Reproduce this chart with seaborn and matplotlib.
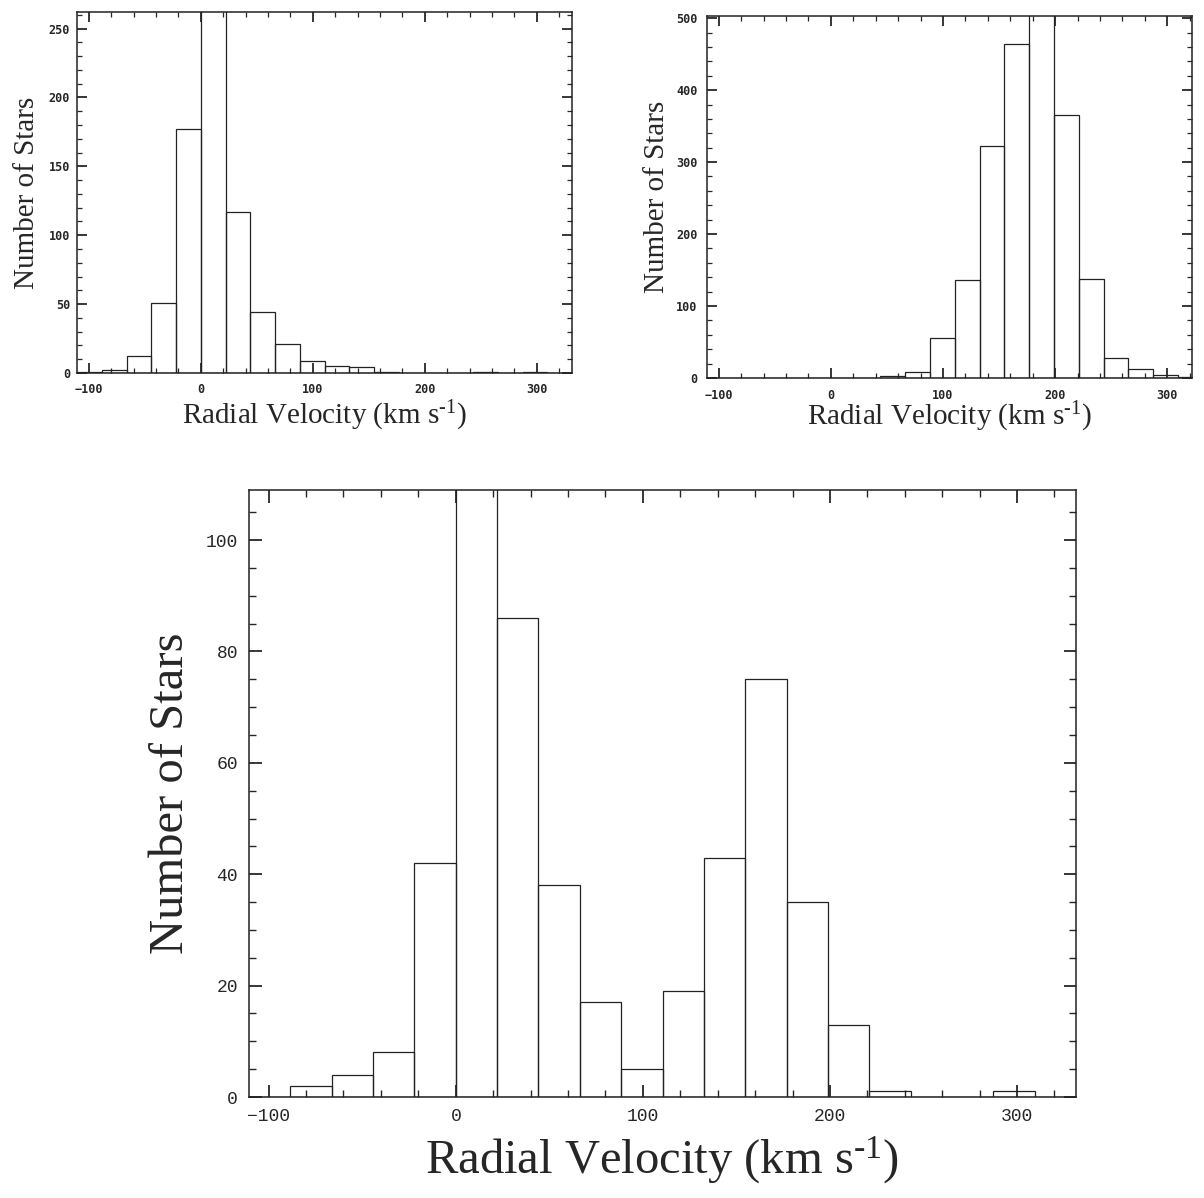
import numpy as np
import pandas as pd
import matplotlib
matplotlib.use("Agg")
import matplotlib.pyplot as plt
from matplotlib.ticker import MultipleLocator
import seaborn as sns

# histogram bins in km/s (same binning in all three panels)
bin_start = -110.5
bin_width = 22.1
n_bins = 20

# number of stars per bin
counts_top_left = [1, 2, 12, 51, 177, 280, 117, 44, 21, 9, 5, 4, 1, 0, 0, 0, 1, 0, 1, 0]
counts_top_right = [0, 0, 0, 0, 0, 0, 0, 3, 8, 56, 136, 323, 464, 520, 366, 138, 28, 12, 4, 1]
counts_bottom = [0, 2, 4, 8, 42, 115, 86, 38, 17, 5, 19, 43, 75, 35, 13, 1, 0, 0, 1, 0]

xlabel = r"Radial Velocity (km s$^{\text{-}1}$)"
ylabel = "Number of Stars"

edges = bin_start + bin_width * np.arange(n_bins + 1)
centers = edges[:-1] + bin_width / 2

sns.set_style("ticks")
plt.rcParams["font.family"] = ["Liberation Serif", "DejaVu Serif"]
plt.rcParams["mathtext.fontset"] = "custom"
plt.rcParams["mathtext.rm"] = "Liberation Serif"
plt.rcParams["mathtext.it"] = "Liberation Serif:italic"

W, H = 1204, 1198
fig = plt.figure(figsize=(W / 100, H / 100), dpi=100)


def px_axes(left, top, right, bottom):
    return fig.add_axes([left / W, 1 - bottom / H, (right - left) / W, (bottom - top) / H])


def draw_hist(ax, counts, xlim, ylim, ymaj, ymin, small, xpad=8, ypad=5):
    df = pd.DataFrame({"velocity": centers, "stars": counts})
    sns.histplot(data=df, x="velocity", weights="stars", bins=list(edges), element="bars",
                 fill=False, color="#222222", linewidth=0.9, ax=ax)
    ax.set_xlim(*xlim)
    ax.set_ylim(*ylim)
    ax.xaxis.set_major_locator(MultipleLocator(100))
    ax.xaxis.set_minor_locator(MultipleLocator(20))
    ax.yaxis.set_major_locator(MultipleLocator(ymaj))
    ax.yaxis.set_minor_locator(MultipleLocator(ymin))
    for s in ax.spines.values():
        s.set_linewidth(1.1)
        s.set_color("#222222")
    if small:
        ax.tick_params(which="major", direction="in", top=True, right=True,
                       length=7, width=1.3)
        ax.tick_params(which="minor", direction="in", top=True, right=True,
                       length=3.5, width=0.9)
        ax.tick_params(axis="x", which="major", pad=xpad)
        ax.tick_params(axis="y", which="major", pad=ypad)
        for lab in ax.get_xticklabels() + ax.get_yticklabels():
            lab.set_fontfamily("DejaVu Sans Mono")
            lab.set_fontweight("bold")
            lab.set_fontsize(8.5)
        fs = 21
    else:
        ax.tick_params(which="major", direction="in", top=True, right=True,
                       length=9, width=1.3, pad=8)
        ax.tick_params(which="minor", direction="in", top=True, right=True,
                       length=5, width=1.0)
        for lab in ax.get_xticklabels() + ax.get_yticklabels():
            lab.set_fontfamily("Liberation Mono")
            lab.set_fontsize(13)
        fs = 35
    ax.set_xlabel(xlabel, fontsize=fs)
    ax.set_ylabel(ylabel, fontsize=fs)
    ax.xaxis.label.set_va("center")
    ax.yaxis.label.set_va("center")


# top left panel
ax1 = px_axes(77, 12, 572, 373)
draw_hist(ax1, counts_top_left, (-110.5, 331.5), (0, 262), 50, 10, True, xpad=7, ypad=5)
ax1.xaxis.set_label_coords(0.5, -0.118)
ax1.yaxis.set_label_coords(-0.101, 0.5)

# top right panel
ax2 = px_axes(707, 16, 1192, 378)
draw_hist(ax2, counts_top_right, (-110.5, 322), (0, 503), 100, 20, True, xpad=8, ypad=7)
ax2.xaxis.set_label_coords(0.5, -0.107)
ax2.yaxis.set_label_coords(-0.103, 0.5)

# bottom panel
ax3 = px_axes(249, 490, 1076, 1097)
draw_hist(ax3, counts_bottom, (-110.5, 331.5), (0, 109), 20, 5, False)
ax3.xaxis.set_label_coords(0.5, -0.104)
ax3.yaxis.set_label_coords(-0.094, 0.5)

fig.savefig("out.png", dpi=100, facecolor="white")
